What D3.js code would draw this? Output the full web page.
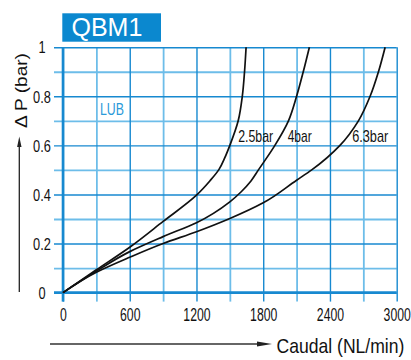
<!DOCTYPE html>
<html><head><meta charset="utf-8">
<script src="https://cdn.jsdelivr.net/npm/d3@7"></script>
<style>
html,body{margin:0;padding:0;background:#fff;}
svg{display:block;font-family:"Liberation Sans",Arial,sans-serif;}
</style></head>
<body>
<svg id="chart" width="411" height="360"></svg>
<script>
// ---- data ----
const title = "QBM1";
const xTicksMajor = [0, 600, 1200, 1800, 2400, 3000];
const xTicksMinor = [300, 900, 1500, 2100, 2700];
const yTicksMajor = [0, 0.2, 0.4, 0.6, 0.8, 1];
const yTicksMinor = [0.1, 0.3, 0.5, 0.7, 0.9];
const seriesNames = ["2.5bar", "4bar", "6.3bar"];
const flow25 = [0, 300, 600, 900, 1200, 1320, 1400, 1455, 1500, 1575, 1612, 1632, 1646];
const dp25   = [0, 0.093, 0.185, 0.29, 0.397, 0.455, 0.5, 0.55, 0.6, 0.7, 0.8, 0.9, 1.0];
const flow40 = [0, 300, 600, 900, 1200, 1500, 1600, 1690, 1757, 1905, 2027, 2100, 2160, 2215];
const dp40   = [0, 0.088, 0.167, 0.228, 0.285, 0.37, 0.41, 0.455, 0.5, 0.6, 0.7, 0.8, 0.9, 1.0];
const flow63 = [0, 300, 600, 900, 1200, 1500, 1800, 2100, 2236, 2490, 2656, 2761, 2836, 2896];
const dp63   = [0, 0.083, 0.144, 0.2, 0.248, 0.302, 0.366, 0.458, 0.5, 0.6, 0.7, 0.8, 0.9, 1.0];
// label anchor points (flow, dP) for the series labels
const labelFlow = [1575, 2020, 2600];
const labelDp = [0.615, 0.615, 0.615];
const xLabel = "Caudal (NL/min)";
const yLabel = "\u0394 P (bar)";
const noteText = "LUB";

// ---- layout ----
const svg = d3.select("#chart");
const x = d3.scaleLinear().domain([0, 3000]).range([63, 396.7]);
const y = d3.scaleLinear().domain([0, 1]).range([292.6, 47.2]);
const ext = 9;
const minorCol = "#6dbde9", majorCol = "#1789d0";

// helper: text squeezed horizontally to a target width with a transform
function fitText(parent, str, px, py, size, width, fill, rotate) {
  const t = parent.append("text").attr("font-size", size).attr("fill", fill).text(str);
  const natural = t.node().getComputedTextLength();
  const sx = width / natural;
  if (rotate) {
    t.attr("text-anchor", "middle").attr("transform", `translate(${px},${py}) rotate(-90) scale(${sx},1)`);
  } else {
    t.attr("transform", `translate(${px},${py}) scale(${sx},1)`);
  }
  return t;
}

// title box
svg.append("rect").attr("x", 62.3).attr("y", 13.3).attr("width", 98.7).attr("height", 28.4).attr("fill", "#0b88cf");
svg.append("text").attr("x", 71.5).attr("y", 36.3).attr("fill", "#fff").attr("font-size", 25).text(title);

function gridX(vals, col, w, labels) {
  const g = svg.append("g").attr("transform", `translate(0,${y(0) + ext})`)
    .call(d3.axisBottom(x).tickValues(vals).tickSize(-(y(0) - y(1) + ext)).tickSizeOuter(0).tickPadding(6.5)
      .tickFormat(labels ? d3.format("d") : ""));
  g.select(".domain").remove();
  g.selectAll("line").attr("stroke", col).attr("stroke-width", w);
  g.selectAll("text").attr("fill", "#111").attr("font-size", 18).attr("font-family", "Liberation Sans,Arial,sans-serif")
    .attr("transform", "scale(0.68,1)");
  return g;
}
function gridY(vals, col, w, labels) {
  const g = svg.append("g").attr("transform", `translate(${x(0) - ext},0)`)
    .call(d3.axisLeft(y).tickValues(vals).tickSize(-(x(3000) - x(0) + ext)).tickSizeOuter(0)
      .tickFormat(labels ? (d => d3.format("")(+d.toFixed(1))) : ""));
  g.select(".domain").remove();
  g.selectAll("line").attr("stroke", col).attr("stroke-width", w);
  g.selectAll("text").attr("fill", "#111").attr("font-size", 16).attr("font-family", "Liberation Sans,Arial,sans-serif")
    .attr("text-anchor", "middle").attr("x", 0).attr("dy", "0.36em")
    .attr("transform", "translate(-12,0) scale(0.8,1)");
  return g;
}
gridX(xTicksMinor, minorCol, 1.8, false);
gridY(yTicksMinor, minorCol, 1.8, false);
gridX(xTicksMajor, majorCol, 1.4, true);
gridY(yTicksMajor, majorCol, 1.4, true);

// heavier zero axes
svg.append("line").attr("x1", x(0) - ext).attr("x2", x(3000)).attr("y1", y(0)).attr("y2", y(0))
  .attr("stroke", majorCol).attr("stroke-width", 2.6);
svg.append("line").attr("x1", x(0)).attr("x2", x(0)).attr("y1", y(1)).attr("y2", y(0) + ext)
  .attr("stroke", majorCol).attr("stroke-width", 2.6);

// curves
const seriesData = [
  d3.zip(flow25, dp25),
  d3.zip(flow40, dp40),
  d3.zip(flow63, dp63)
];
const line = d3.line().x(d => x(d[0])).y(d => y(d[1])).curve(d3.curveMonotoneY);
svg.append("g").selectAll("path").data(seriesData).join("path")
  .attr("d", line).attr("fill", "none").attr("stroke", "#111").attr("stroke-width", 1.7);

// series labels
const labelWidths = [35, 24, 36];
const lg = svg.append("g");
seriesNames.forEach((s, i) => fitText(lg, s, x(labelFlow[i]), y(labelDp[i]), 16, labelWidths[i], "#111"));

// note
fitText(svg, noteText, 100, 114.5, 17, 24, "#2b9ad9");

// axis titles with arrows
svg.append("line").attr("x1", 50).attr("x2", 258).attr("y1", 344).attr("y2", 344).attr("stroke", "#333").attr("stroke-width", 1.3);
svg.append("path").attr("d", "M257,341.6 L272,344 L257,346.4 Z").attr("fill", "#222");
fitText(svg, xLabel, 276.5, 353, 20, 128, "#111");

svg.append("line").attr("x1", 19.3).attr("x2", 19.3).attr("y1", 292).attr("y2", 146).attr("stroke", "#222").attr("stroke-width", 1.3);
svg.append("path").attr("d", "M17.1,147 L19.3,136.5 L21.5,147 Z").attr("fill", "#222");
fitText(svg, yLabel, 26.5, 90.5, 17, 75, "#111", true);
</script>
</body></html>
